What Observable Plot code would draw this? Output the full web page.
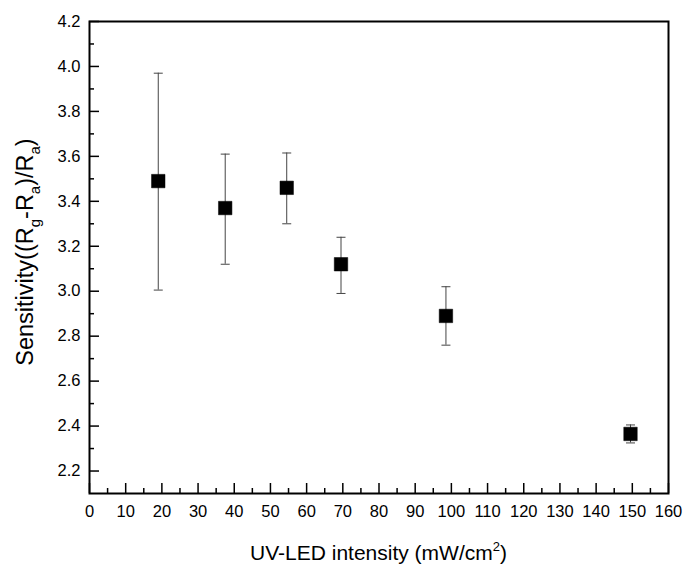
<!DOCTYPE html>
<html>
<head>
<meta charset="utf-8">
<script src="https://cdn.jsdelivr.net/npm/d3@7"></script>
<script src="https://cdn.jsdelivr.net/npm/@observablehq/plot@0.6"></script>
<style>
  html, body { margin: 0; padding: 0; background: #fff; }
  svg { display: block; }
</style>
</head>
<body>
<div id="chart"></div>
<script>
// Data
const intensity   = [19, 37.5, 54.5, 69.5, 98.5, 149.5];
const sensitivity = [3.49, 3.37, 3.46, 3.12, 2.89, 2.365];
const errHigh     = [3.97, 3.61, 3.615, 3.24, 3.02, 2.405];
const errLow      = [3.005, 3.12, 3.30, 2.99, 2.76, 2.325];

const xMajor = d3.range(0, 161, 10);
const xMinor = d3.range(5, 160, 10);
const yMajor = [2.2, 2.4, 2.6, 2.8, 3.0, 3.2, 3.4, 3.6, 3.8, 4.0, 4.2];
const yMinor = [2.3, 2.5, 2.7, 2.9, 3.1, 3.3, 3.5, 3.7, 3.9, 4.1];

const data = intensity.map((x, i) => ({x, y: sensitivity[i], lo: errLow[i], hi: errHigh[i]}));

const W = 684, H = 565;
const mL = 89, mR = 16, mT = 21, mB = 72;
const innerH = H - mT - mB, innerW = W - mL - mR;

const capSymbol = {
  draw(ctx, size) {
    ctx.moveTo(-4.5, 0);
    ctx.lineTo(4.5, 0);
  }
};

const plot = Plot.plot({
  width: W,
  height: H,
  marginLeft: mL,
  marginRight: mR,
  marginTop: mT,
  marginBottom: mB,
  style: {fontFamily: "Arial, 'Liberation Sans', sans-serif", background: "#fff", color: "#000"},
  x: {domain: [0, 160]},
  y: {domain: [2.1, 4.2]},
  marks: [
    // inward major/minor ticks
    Plot.tickX(xMajor, {x: d => d, insetTop: innerH - 10, stroke: "#000", strokeWidth: 1.5}),
    Plot.tickX(xMinor, {x: d => d, insetTop: innerH - 5, stroke: "#000", strokeWidth: 1.5}),
    Plot.tickY(yMajor, {y: d => d, insetRight: innerW - 10, stroke: "#000", strokeWidth: 1.5}),
    Plot.tickY(yMinor, {y: d => d, insetRight: innerW - 5, stroke: "#000", strokeWidth: 1.5}),
    Plot.axisX({ticks: xMajor, tickSize: 0, tickPadding: 12, fontSize: 16.5, label: null, tickFormat: d => String(d)}),
    Plot.axisY({ticks: yMajor, tickSize: 0, tickPadding: 9, fontSize: 16.5, label: null, tickFormat: d3.format(".1f")}),
    // error bars
    Plot.ruleX(data, {x: "x", y1: "lo", y2: "hi", stroke: "#444", strokeWidth: 1}),
    Plot.dot(data, {x: "x", y: "hi", symbol: capSymbol, stroke: "#444", strokeWidth: 1, r: 4}),
    Plot.dot(data, {x: "x", y: "lo", symbol: capSymbol, stroke: "#444", strokeWidth: 1, r: 4}),
    // markers
    Plot.dot(data, {x: "x", y: "y", symbol: "square", r: 7.6, fill: "#000", stroke: "#000", strokeWidth: 0.5}),
    Plot.frame({stroke: "#000", strokeWidth: 2})
  ]
});

const svg = d3.select(plot);

// X axis title with superscript
const xt = svg.append("text")
  .attr("x", mL + innerW / 2)
  .attr("y", 560)
  .attr("text-anchor", "middle")
  .attr("font-family", "Arial, 'Liberation Sans', sans-serif")
  .attr("font-size", 21)
  .attr("fill", "#000");
xt.append("tspan").text("UV-LED intensity (mW/cm");
xt.append("tspan").attr("dy", -9).attr("font-size", 13).text("2");
xt.append("tspan").attr("dy", 9).text(")");

// Y axis title with subscripts
const yt = svg.append("text")
  .attr("transform", `translate(33, ${mT + innerH / 2 - 5}) rotate(-90)`)
  .attr("text-anchor", "middle")
  .attr("font-family", "Arial, 'Liberation Sans', sans-serif")
  .attr("font-size", 23.5)
  .attr("fill", "#000");
yt.append("tspan").text("Sensitivity((R");
yt.append("tspan").attr("dy", 7).attr("font-size", 15).text("g");
yt.append("tspan").attr("dy", -7).text("-R");
yt.append("tspan").attr("dy", 7).attr("font-size", 15).text("a");
yt.append("tspan").attr("dy", -7).text(")/R");
yt.append("tspan").attr("dy", 7).attr("font-size", 15).text("a");
yt.append("tspan").attr("dy", -7).text(")");

document.getElementById("chart").appendChild(plot);
</script>
</body>
</html>
